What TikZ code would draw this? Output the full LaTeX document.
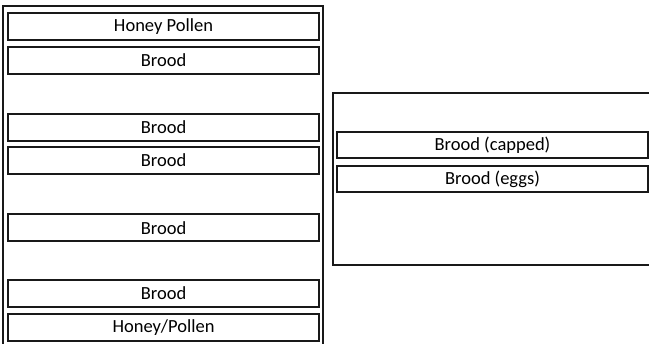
\documentclass[tikz,border=0pt]{standalone}
\usepackage{fontspec}
\setmainfont{Carlito}
\begin{document}
\begin{tikzpicture}[x=1pt,y=-1pt,
  frame/.style={draw=black!90,line width=2pt},
  bar/.style={draw=black!90,line width=2pt,font=\fontsize{18.5}{21}\selectfont,text=black,minimum width=311pt,inner sep=0pt}]
\path[use as bounding box,clip] (0,0) rectangle (649,344);
\fill[white] (0,0) rectangle (649,344);
% left frame
\draw[frame] (3,6) rectangle (323,352);
\node[bar,minimum height=27pt] (hp1) at (163.5,27) {Honey Pollen};
\node[bar,minimum height=27pt] (b1) at (163.5,60.5) {Brood};
\node[bar,minimum height=27pt] (b2) at (163.5,127.5) {Brood};
\node[bar,minimum height=27pt] (b3) at (163.5,160.5) {Brood};
\node[bar,minimum height=27pt] (b4) at (163.5,228) {Brood};
\node[bar,minimum height=27pt] (b5) at (163.5,293.5) {Brood};
\node[bar,minimum height=27pt] (hp2) at (163.5,327.5) {Honey/Pollen};
% right frame
\draw[frame] (333,93) rectangle (660,265);
\node[bar,minimum height=26pt] (bc) at (492.5,145.5) {Brood (capped)};
\node[bar,minimum height=26pt] (be) at (492.5,179) {Brood (eggs)};
\end{tikzpicture}
\end{document}
